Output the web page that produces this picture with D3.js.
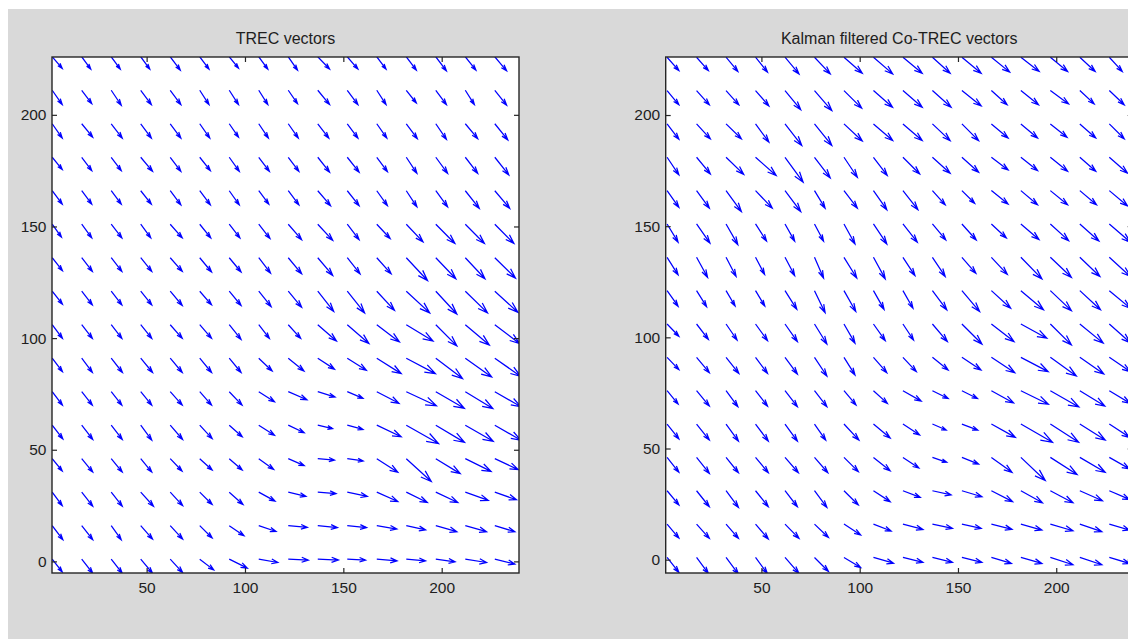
<!DOCTYPE html>
<html>
<head>
<meta charset="utf-8">
<script src="https://cdn.jsdelivr.net/npm/d3@7/dist/d3.min.js"></script>
<style>
  html, body { margin: 0; padding: 0; background: #ffffff; }
  svg { display: block; }
  text { font-family: "Liberation Sans", Arial, Helvetica, sans-serif; fill: #1e1e1e; }
</style>
</head>
<body>
<svg id="fig" width="1128" height="639"></svg>
<script>
// Grid of vector origins (x columns left→right, y rows top→bottom)
const xGrid = [2, 17, 32, 47, 62, 77, 92, 107, 122, 137, 152, 167, 182, 197, 212, 227];
const yGrid = [226, 211, 196, 181, 166, 151, 136, 121, 106, 91, 76, 61, 46, 31, 16, 1];

const xTicks = [50, 100, 150, 200];
const yTicks = [0, 50, 100, 150, 200];

const titles = ["TREC vectors", "Kalman filtered Co-TREC vectors"];

// TREC motion vectors (rows follow yGrid, columns follow xGrid)
const trecU = [
  [5.1,4.6,4.6,4.6,5.1,4.7,4.7,4.6,4.7,6.0,5.4,4.7,5.1,5.4,5.4,6.0],
  [5.1,5.1,5.1,5.4,5.4,4.7,4.7,4.6,4.7,6.0,5.4,4.7,5.1,5.4,4.6,6.0],
  [5.1,5.6,5.6,5.4,5.4,5.1,4.7,4.9,5.1,5.6,5.4,5.1,5.6,5.4,6.3,6.6],
  [5.1,5.1,5.1,6.0,5.4,5.4,5.1,5.4,5.4,6.0,6.0,5.4,5.4,6.0,6.3,7.1],
  [5.1,5.1,5.1,5.4,5.4,5.4,5.1,5.1,5.4,6.5,6.0,5.4,5.4,6.0,7.1,7.6],
  [4.7,5.1,5.4,5.1,6.1,5.6,5.4,5.7,6.8,7.6,6.0,6.8,8.5,9.7,9.7,9.7],
  [5.2,5.4,5.4,5.6,6.1,6.0,6.0,6.0,6.8,7.6,6.5,7.3,10.8,10.2,10.0,10.5],
  [5.2,5.4,5.4,5.6,6.1,6.0,6.0,6.3,6.8,8.1,8.8,9.0,11.9,10.7,11.3,11.7],
  [5.2,5.4,5.4,5.6,6.1,6.0,6.0,5.4,6.3,9.5,11.0,11.5,13.6,10.7,12.2,12.7],
  [5.2,5.4,5.7,6.0,6.1,6.0,6.0,6.8,8.0,8.5,9.7,12.4,14.8,13.6,13.4,13.1],
  [5.2,5.4,5.4,5.6,6.1,6.0,6.5,8.0,9.5,8.8,8.0,11.3,15.3,14.5,14.0,13.2],
  [5.4,5.6,5.6,5.6,6.3,6.3,6.6,8.0,8.1,7.5,8.0,12.4,16.4,14.6,14.2,13.2],
  [5.1,5.6,5.6,5.6,6.0,6.3,6.6,7.6,8.1,8.5,8.1,10.7,12.7,12.4,13.1,11.9],
  [5.1,5.6,5.6,6.5,6.3,6.3,7.0,8.3,9.0,9.3,10.2,10.7,10.7,11.2,11.7,11.0],
  [5.4,5.6,5.1,6.0,6.3,6.3,7.5,8.8,9.7,10.0,9.8,10.2,9.8,10.7,10.8,10.2],
  [5.1,5.6,5.6,6.0,6.3,7.1,9.2,9.7,10.2,10.5,9.3,10.3,9.8,9.8,10.8,10.2]
];
const trecV = [
  [-5.2,-5.5,-5.5,-5.5,-6.0,-5.5,-5.1,-5.5,-6.0,-5.5,-5.5,-5.5,-6.0,-6.3,-6.0,-6.3],
  [-6.4,-6.0,-6.7,-6.4,-6.4,-6.4,-6.4,-6.4,-6.0,-6.4,-6.4,-6.4,-5.7,-6.4,-6.4,-6.7],
  [-6.4,-6.0,-6.4,-6.4,-6.4,-6.4,-6.0,-6.4,-6.4,-6.4,-6.4,-6.4,-6.7,-7.0,-6.7,-7.2],
  [-5.5,-6.0,-6.0,-6.3,-6.3,-6.0,-6.3,-6.3,-6.3,-6.7,-6.7,-6.4,-7.2,-7.2,-7.2,-7.9],
  [-6.0,-6.0,-6.0,-6.0,-6.3,-6.3,-6.3,-6.0,-6.3,-6.7,-6.7,-6.7,-7.2,-7.2,-7.9,-7.9],
  [-5.8,-6.1,-6.1,-6.1,-6.1,-6.1,-6.1,-6.4,-6.9,-7.2,-6.9,-6.4,-7.9,-8.6,-8.6,-8.6],
  [-5.8,-6.1,-6.1,-6.1,-6.1,-6.4,-6.4,-6.9,-7.2,-7.9,-7.2,-7.2,-10.2,-9.4,-9.4,-9.1],
  [-5.8,-6.1,-6.1,-6.1,-6.4,-6.1,-6.4,-6.9,-7.2,-9.0,-9.7,-8.6,-9.7,-10.2,-9.7,-9.4],
  [-6.1,-6.1,-6.1,-6.1,-6.1,-6.1,-6.6,-6.1,-6.1,-7.3,-8.4,-7.7,-7.3,-9.5,-9.1,-8.5],
  [-6.0,-6.4,-6.4,-6.4,-6.4,-6.4,-6.4,-5.7,-5.7,-4.9,-5.4,-6.9,-6.9,-9.1,-8.4,-8.1],
  [-6.0,-6.0,-6.0,-6.0,-6.0,-6.0,-6.0,-4.5,-3.6,-2.4,-3.0,-5.2,-6.3,-7.4,-7.5,-6.7],
  [-6.1,-6.4,-6.4,-6.7,-6.4,-6.0,-5.2,-4.5,-3.4,-1.5,-1.9,-5.2,-8.2,-7.7,-7.2,-6.7],
  [-5.5,-6.0,-6.0,-6.0,-5.5,-5.1,-5.1,-4.8,-3.1,-0.6,-1.0,-6.1,-10.2,-6.7,-5.7,-4.9],
  [-6.0,-6.3,-6.3,-6.3,-6.0,-5.5,-5.5,-4.0,-1.9,-0.6,-1.9,-4.2,-4.6,-4.6,-3.7,-3.4],
  [-6.3,-6.3,-6.3,-6.0,-6.0,-5.5,-4.5,-2.6,-0.8,-0.9,-0.9,-1.5,-1.9,-2.7,-2.7,-2.7],
  [-5.7,-6.3,-6.3,-6.3,-6.0,-4.8,-4.0,-1.5,-0.4,-0.4,-0.4,-0.8,-0.8,-1.2,-1.5,-2.2]
];

// Kalman filtered Co-TREC motion vectors
const kalmanU = [
  [6.0,6.0,6.0,6.1,7.1,8.0,9.3,9.8,9.8,9.0,9.8,9.3,9.3,8.8,7.8,6.6],
  [6.0,6.5,6.5,6.8,8.0,8.8,9.0,9.7,9.8,9.5,9.8,8.0,9.0,9.3,7.3,7.6],
  [6.0,7.0,7.8,6.8,8.5,8.8,9.3,9.8,9.8,9.0,8.5,8.5,8.5,8.5,8.1,7.6],
  [6.0,7.0,9.0,10.5,9.2,8.0,6.8,7.0,8.5,9.0,8.5,8.5,8.5,8.8,8.1,9.3],
  [6.0,6.5,7.8,8.5,8.0,5.4,6.8,6.8,7.6,6.5,6.5,8.5,8.5,8.8,8.5,9.3],
  [5.6,6.8,6.0,5.6,4.9,4.6,5.6,6.8,7.3,6.8,7.3,7.6,9.2,9.3,9.7,10.7],
  [5.6,5.6,5.1,4.6,4.9,4.6,6.5,6.0,6.1,6.5,7.1,8.1,10.7,10.7,10.2,10.7],
  [5.6,5.1,4.6,4.7,6.0,5.4,6.0,5.4,5.1,7.3,9.0,9.8,11.5,10.7,10.5,10.7],
  [6.0,6.0,5.6,6.1,6.3,6.3,5.6,6.0,5.4,7.6,10.2,11.5,13.2,10.7,11.9,10.7],
  [6.0,6.5,6.5,6.1,6.3,6.3,5.6,6.8,6.8,8.0,9.7,11.9,13.9,13.2,12.2,10.7],
  [5.6,6.5,6.0,6.1,6.3,6.3,6.1,7.1,9.3,8.0,7.9,11.3,14.0,14.5,12.7,10.5],
  [6.0,6.5,6.3,6.5,6.3,5.7,7.6,8.5,8.5,7.0,8.1,12.2,16.1,14.4,12.9,10.3],
  [6.0,6.5,6.3,6.5,6.8,6.8,7.3,8.5,8.1,7.3,8.5,10.5,12.4,13.6,12.9,10.3],
  [6.0,6.5,6.3,6.5,6.3,6.3,7.3,8.5,8.8,9.5,10.2,10.8,11.0,11.5,11.5,10.3],
  [6.0,6.5,6.3,6.5,7.1,7.1,8.5,9.0,10.2,10.2,9.8,10.5,10.7,11.5,11.2,10.3],
  [6.0,6.0,6.3,6.0,7.1,7.1,8.5,10.2,10.2,10.2,10.2,10.2,10.7,11.5,11.2,10.3]
];
const kalmanV = [
  [-6.0,-6.0,-6.4,-6.7,-7.5,-7.5,-7.2,-7.5,-7.2,-7.2,-7.2,-6.7,-6.4,-6.4,-6.4,-6.4],
  [-6.4,-6.4,-6.4,-6.9,-8.6,-9.0,-7.9,-7.5,-7.5,-7.5,-6.9,-6.4,-6.4,-6.0,-6.0,-6.4],
  [-6.9,-6.7,-6.7,-8.2,-9.7,-9.7,-7.7,-7.5,-7.5,-7.5,-7.5,-6.3,-6.3,-6.0,-6.3,-6.7],
  [-7.9,-7.5,-7.7,-8.2,-11.2,-9.3,-9.0,-8.2,-7.5,-7.2,-6.7,-5.7,-6.0,-6.3,-6.3,-7.2],
  [-7.5,-7.9,-9.4,-7.9,-9.4,-7.9,-7.9,-8.6,-8.6,-6.4,-5.7,-6.0,-6.4,-6.4,-6.4,-6.9],
  [-8.2,-8.6,-9.3,-7.7,-7.7,-7.7,-9.0,-9.0,-8.2,-7.2,-7.2,-6.3,-7.0,-7.5,-7.7,-8.2],
  [-7.9,-9.0,-8.6,-7.7,-8.2,-9.3,-9.3,-9.7,-8.2,-8.6,-7.2,-7.7,-9.7,-9.0,-8.6,-8.6],
  [-7.0,-7.2,-6.9,-6.9,-8.4,-9.9,-9.4,-8.4,-7.9,-8.6,-9.4,-7.9,-8.6,-9.0,-8.6,-7.9],
  [-5.5,-6.9,-7.2,-7.5,-7.9,-9.0,-8.6,-7.5,-7.2,-7.9,-9.0,-7.9,-6.4,-9.4,-8.6,-8.4],
  [-5.5,-6.9,-7.2,-7.2,-7.5,-8.4,-7.9,-6.9,-6.4,-5.7,-5.7,-6.9,-6.4,-8.4,-7.5,-6.4],
  [-6.0,-6.9,-7.2,-6.9,-7.2,-7.2,-6.4,-5.7,-4.7,-3.5,-3.5,-5.5,-6.1,-7.3,-6.9,-5.6],
  [-6.7,-7.2,-7.7,-7.7,-7.7,-7.2,-7.2,-6.3,-4.9,-2.7,-2.7,-6.0,-8.2,-8.2,-7.2,-6.0],
  [-6.7,-7.2,-6.9,-6.9,-6.9,-6.9,-6.4,-6.0,-4.8,-2.2,-3.0,-6.7,-10.4,-7.7,-6.7,-5.2],
  [-6.4,-7.2,-7.5,-7.2,-7.2,-7.5,-6.4,-4.9,-3.0,-1.9,-2.7,-4.9,-5.4,-5.4,-4.5,-3.9],
  [-6.3,-6.4,-6.4,-6.7,-6.4,-6.0,-4.9,-3.1,-2.4,-1.9,-1.9,-2.4,-2.7,-3.0,-3.4,-2.7],
  [-6.7,-7.2,-7.5,-7.2,-7.2,-6.3,-4.5,-2.6,-2.2,-2.2,-2.2,-2.7,-2.7,-3.3,-3.3,-2.7]
];

// ---------------------------------------------------------------------------
const svg = d3.select("#fig");

// figure background
svg.append("rect")
  .attr("x", 8).attr("y", 9).attr("width", 1120).attr("height", 630)
  .attr("fill", "#d9d9d9");

const panels = [
  { left: 52,    right: 519,    top: 57, bottom: 573, xDom: [1.9, 239.3], yDom: [-5.2, 225.9], U: trecU,   V: trecV },
  { left: 665.7, right: 1132.7, top: 57, bottom: 573, xDom: [1.3, 238.9], yDom: [-6.0, 226.1], U: kalmanU, V: kalmanV }
];

// quiver arrow in data space, head shape as in MATLAB (alpha = beta = 0.33)
function arrowPath(x, y, u, v, sx, sy) {
  const alpha = 0.33, beta = 0.33;
  const tx = x + u, ty = y + v;
  const h1x = tx - alpha * (u + beta * v), h1y = ty - alpha * (v - beta * u);
  const h2x = tx - alpha * (u - beta * v), h2y = ty - alpha * (v + beta * u);
  const p = d3.path();
  p.moveTo(sx(x), sy(y));
  p.lineTo(sx(tx), sy(ty));
  p.moveTo(sx(h1x), sy(h1y));
  p.lineTo(sx(tx), sy(ty));
  p.lineTo(sx(h2x), sy(h2y));
  return p.toString();
}

panels.forEach((P, k) => {
  const sx = d3.scaleLinear().domain(P.xDom).range([P.left, P.right]);
  const sy = d3.scaleLinear().domain(P.yDom).range([P.bottom, P.top]);
  const w = P.right - P.left, h = P.bottom - P.top;

  const g = svg.append("g");

  g.append("rect")
    .attr("x", P.left).attr("y", P.top).attr("width", w).attr("height", h)
    .attr("fill", "#ffffff");

  const clipId = "clip" + k;
  svg.append("clipPath").attr("id", clipId)
    .append("rect").attr("x", P.left).attr("y", P.top).attr("width", w).attr("height", h);

  // vectors
  const vecs = [];
  yGrid.forEach((yy, r) => xGrid.forEach((xx, c) => {
    vecs.push({ x: xx, y: yy, u: P.U[r][c], v: P.V[r][c] });
  }));
  g.append("g")
    .attr("clip-path", `url(#${clipId})`)
    .selectAll("path")
    .data(vecs)
    .join("path")
    .attr("d", d => arrowPath(d.x, d.y, d.u, d.v, sx, sy))
    .attr("fill", "none")
    .attr("stroke", "#0000ff")
    .attr("stroke-width", 1.25)
    .attr("stroke-linejoin", "miter");

  // axes: ticks inside on all four sides
  const fmt = d3.format("d");
  const axB = g.append("g").attr("transform", `translate(0,${P.bottom})`)
    .call(d3.axisBottom(sx).tickValues(xTicks).tickFormat(fmt).tickSizeInner(-5).tickSizeOuter(0).tickPadding(9));
  const axT = g.append("g").attr("transform", `translate(0,${P.top})`)
    .call(d3.axisTop(sx).tickValues(xTicks).tickFormat("").tickSizeInner(-5).tickSizeOuter(0));
  const axL = g.append("g").attr("transform", `translate(${P.left},0)`)
    .call(d3.axisLeft(sy).tickValues(yTicks).tickFormat(fmt).tickSizeInner(-5).tickSizeOuter(0).tickPadding(5.5));
  const axR = g.append("g").attr("transform", `translate(${P.right},0)`)
    .call(d3.axisRight(sy).tickValues(yTicks).tickFormat("").tickSizeInner(-5).tickSizeOuter(0));

  [axB, axT, axL, axR].forEach(a => {
    a.select(".domain").remove();
    a.selectAll(".tick line").attr("stroke", "#262626").attr("stroke-width", 1.2);
    a.selectAll(".tick text")
      .attr("fill", "#1e1e1e")
      .style("font-family", '"Liberation Sans", Arial, sans-serif')
      .style("font-size", "15.5px");
  });

  // box
  g.append("rect")
    .attr("x", P.left).attr("y", P.top).attr("width", w).attr("height", h)
    .attr("fill", "none").attr("stroke", "#262626").attr("stroke-width", 1.4);

  // title
  g.append("text")
    .attr("x", (P.left + P.right) / 2)
    .attr("y", P.top - 13)
    .attr("text-anchor", "middle")
    .style("font-size", "16px")
    .text(titles[k]);
});
</script>
</body>
</html>
